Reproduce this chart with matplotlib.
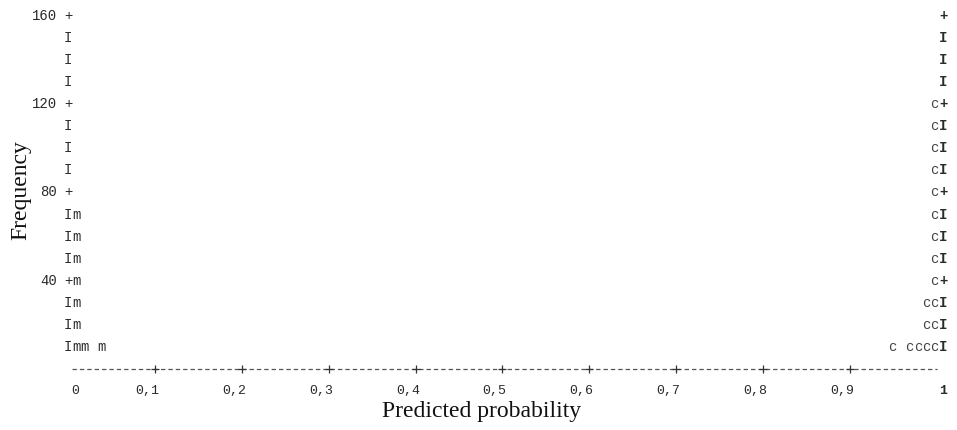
import matplotlib
matplotlib.use("Agg")
import matplotlib.pyplot as plt

# frequency scale of the text histogram (one row = 10 cases)
row_values = [10, 20, 30, 40, 50, 60, 70, 80, 90, 100, 110, 120, 130, 140, 150, 160]
y_tick_values = [40, 80, 120, 160]

# x axis
x_ticks = [0.1, 0.2, 0.3, 0.4, 0.5, 0.6, 0.7, 0.8, 0.9]
x_labels = ["0", "0,1", "0,2", "0,3", "0,4", "0,5", "0,6", "0,7", "0,8", "0,9", "1"]
x_label_values = [0, 0.1, 0.2, 0.3, 0.4, 0.5, 0.6, 0.7, 0.8, 0.9, 1]

# symbol columns: character offset from the axis and column height
left_offsets = [1, 2, 4]          # 'm' columns next to p = 0
left_heights = [70, 10, 10]
right_offsets = [1, 2, 3, 4, 6]   # 'c' columns next to p = 1
right_heights = [120, 30, 10, 10, 10]

mono = "Liberation Mono"
ink = "#2a2a2a"
cw = 8.4 / 869  # width of one character in data units

fig = plt.figure(figsize=(9.57, 4.30), dpi=100)
ax = fig.add_axes([0, 0, 1, 1])
ax.set_xlim(-68 / 869, 889 / 869)
ax.set_ylim(-61 / 2.207, 369 / 2.207)
ax.axis("off")

# vertical axes built from 'I' and '+' characters
for y in row_values:
    ch = "+" if y in y_tick_values else "I"
    ax.text(0, y, ch, family=mono, fontsize=10, color=ink, ha="center", va="center")
    ax.text(1.007, y, ch, family=mono, fontsize=10, color=ink, ha="center", va="center",
            fontweight="bold")

# y tick labels
for y in y_tick_values:
    ax.text(-11 / 869, y, str(y), family=mono, fontsize=10, color=ink,
            ha="right", va="center")

# symbol columns
for off, h in zip(left_offsets, left_heights):
    for y in row_values:
        if y <= h:
            ax.text(off * cw, y, "m", family=mono, fontsize=10, color=ink,
                    ha="center", va="center")
for off, h in zip(right_offsets, right_heights):
    for y in row_values:
        if y <= h:
            ax.text(1.007 - off * cw, y, "c", family=mono, fontsize=10, color="#444444",
                    ha="center", va="center")

# dashed x axis with '+' ticks
ax.plot([0.005, 1.0], [0, 0], color="#555555", lw=0.9, ls=(0, (3.5, 2.4)))
ax.plot(x_ticks, [0] * len(x_ticks), ls="none", marker="+", ms=6, mew=0.9,
        color="#333333")

for v, lab in zip(x_label_values, x_labels):
    if v == 0:
        xpos = v + 0.008
    elif v == 1:
        xpos = v + 0.007
    else:
        xpos = v - 0.009
    ax.text(xpos, -10, lab, family=mono, fontsize=9.5, color=ink,
            ha="center", va="center", fontweight="bold" if v == 1 else "normal")

ax.text((482 - 68) / 869, (430 - 411 - 61) / 2.207, "Predicted probability",
        family="Liberation Serif", fontsize=17, color="#111111",
        ha="center", va="center")
ax.text((21 - 68) / 869, (430 - 190 - 61) / 2.207, "Frequency",
        family="Liberation Serif", fontsize=17, color="#111111",
        ha="center", va="center", rotation=90)

fig.savefig("out.png", dpi=100)
